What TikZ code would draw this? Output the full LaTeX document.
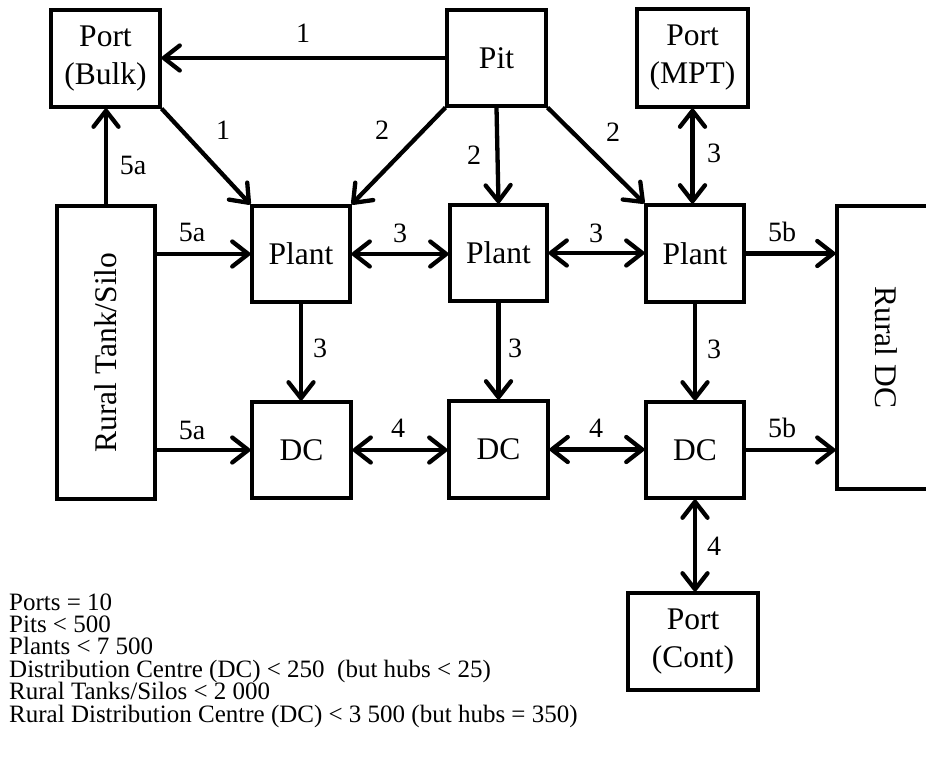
\documentclass[tikz,border=0pt]{standalone}
\usepackage{fontspec}
\setmainfont{Liberation Serif}
\usetikzlibrary{arrows.meta}
\tikzset{
  box/.style={draw, line width=3.2pt, inner sep=0pt, align=center,
    font=\fontsize{31.5}{38}\selectfont},
  lbl/.style={inner sep=0pt, font=\fontsize{28}{30}\selectfont},
  note/.style={inner sep=0pt, anchor=base west, text height=16pt, text depth=4pt,
    font=\fontsize{25}{26}\selectfont},
  tip/.tip={Straight Barb[length=16pt,width=25pt,line cap=round,line join=round]},
  arr/.style={line width=4.3pt, -tip},
  darr/.style={line width=4.3pt, tip-tip}
}
\begin{document}
\begin{tikzpicture}[x=1pt,y=-1pt]
\useasboundingbox (0,0) rectangle (926,760);
\clip (0,0) rectangle (926,760);
% boxes
\node[box, minimum width=109pt, minimum height=97pt] (pb) at (105.5,58.5) {Port\\(Bulk)};
\node[box, minimum width=99pt, minimum height=96pt] (pit) at (496.5,58) {Pit};
\node[box, minimum width=111pt, minimum height=98pt] (pm) at (692.5,58) {Port\\(MPT)};
\node[box, minimum width=98pt, minimum height=293pt] (tank) at (106,352.5) {\rotatebox{90}{Rural Tank/Silo}};
\node[box, minimum width=98pt, minimum height=96pt] (p1) at (301,254) {Plant};
\node[box, minimum width=97pt, minimum height=96pt] (p2) at (498.5,253) {Plant};
\node[box, minimum width=98pt, minimum height=97pt] (p3) at (695,253.5) {Plant};
\node[box, minimum width=99pt, minimum height=96pt] (d1) at (301.5,450) {DC};
\node[box, minimum width=99pt, minimum height=97pt] (d2) at (498.5,449.5) {DC};
\node[box, minimum width=98pt, minimum height=96pt] (d3) at (695,450) {DC};
\node[box, minimum width=98pt, minimum height=283pt] (rdc) at (886,347.5) {\rotatebox{-90}{Rural DC}};
\node[box, minimum width=130pt, minimum height=97pt] (pc) at (693,641.5) {Port\\(Cont)};
% connectors
\draw[arr] (pit.west) -- (pit.west -| pb.east);
\draw[arr] (pb.south east) -- (p1.north west);
\draw[arr] (pit.south west) -- (p1.north east);
\draw[arr] (pit.south) -- (p2.north);
\draw[arr] (pit.south east) -- (p3.north west);
\draw[darr] (pm.south) -- (pm.south |- p3.north);
\draw[arr] (tank.north) -- (tank.north |- pb.south);
\draw[arr] (tank.east |- p1.west) -- (p1.west);
\draw[arr] (tank.east |- d1.west) -- (d1.west);
\draw[darr] (p1.east) -- (p1.east -| p2.west);
\draw[darr] (p2.east) -- (p2.east -| p3.west);
\draw[arr] (p3.east) -- (p3.east -| rdc.west);
\draw[arr] (p1.south) -- (p1.south |- d1.north);
\draw[arr] (p2.south) -- (d2.north);
\draw[arr] (p3.south) -- (d3.north);
\draw[darr] (d1.east) -- (d1.east -| d2.west);
\draw[darr] (d2.east) -- (d2.east -| d3.west);
\draw[arr] (d3.east) -- (d3.east -| rdc.west);
\draw[darr] (d3.south) -- (d3.south |- pc.north);
% labels
\node[lbl] (l1a) at (303,33) {1};
\node[lbl] (l1b) at (223,130) {1};
\node[lbl] (l5a) at (133,165) {5a};
\node[lbl] (l5b) at (192,232) {5a};
\node[lbl] (l5c) at (192,430) {5a};
\node[lbl] (l2a) at (382,130) {2};
\node[lbl] (l2b) at (474,155) {2};
\node[lbl] (l2c) at (613,132) {2};
\node[lbl] (l3a) at (400,233) {3};
\node[lbl] (l3b) at (596,233) {3};
\node[lbl] (l3c) at (714,153) {3};
\node[lbl] (l3d) at (320,348) {3};
\node[lbl] (l3e) at (515,348) {3};
\node[lbl] (l3f) at (714,349) {3};
\node[lbl] (l5d) at (782,232) {5b};
\node[lbl] (l5e) at (782,428) {5b};
\node[lbl] (l4a) at (398,428) {4};
\node[lbl] (l4b) at (596,428) {4};
\node[lbl] (l4c) at (714,546) {4};
% notes
\node[note] (n1) at (9,610) {Ports = 10};
\node[note] (n2) at (9,632) {Pits < 500};
\node[note] (n3) at (9,654) {Plants < 7 500};
\node[note] (n4) at (9,677) {Distribution Centre (DC) < 250 \ (but hubs < 25)};
\node[note] (n5) at (9,699) {Rural Tanks/Silos < 2 000};
\node[note] (n6) at (9,722) {Rural Distribution Centre (DC) < 3 500 (but hubs = 350)};
\end{tikzpicture}
\end{document}
